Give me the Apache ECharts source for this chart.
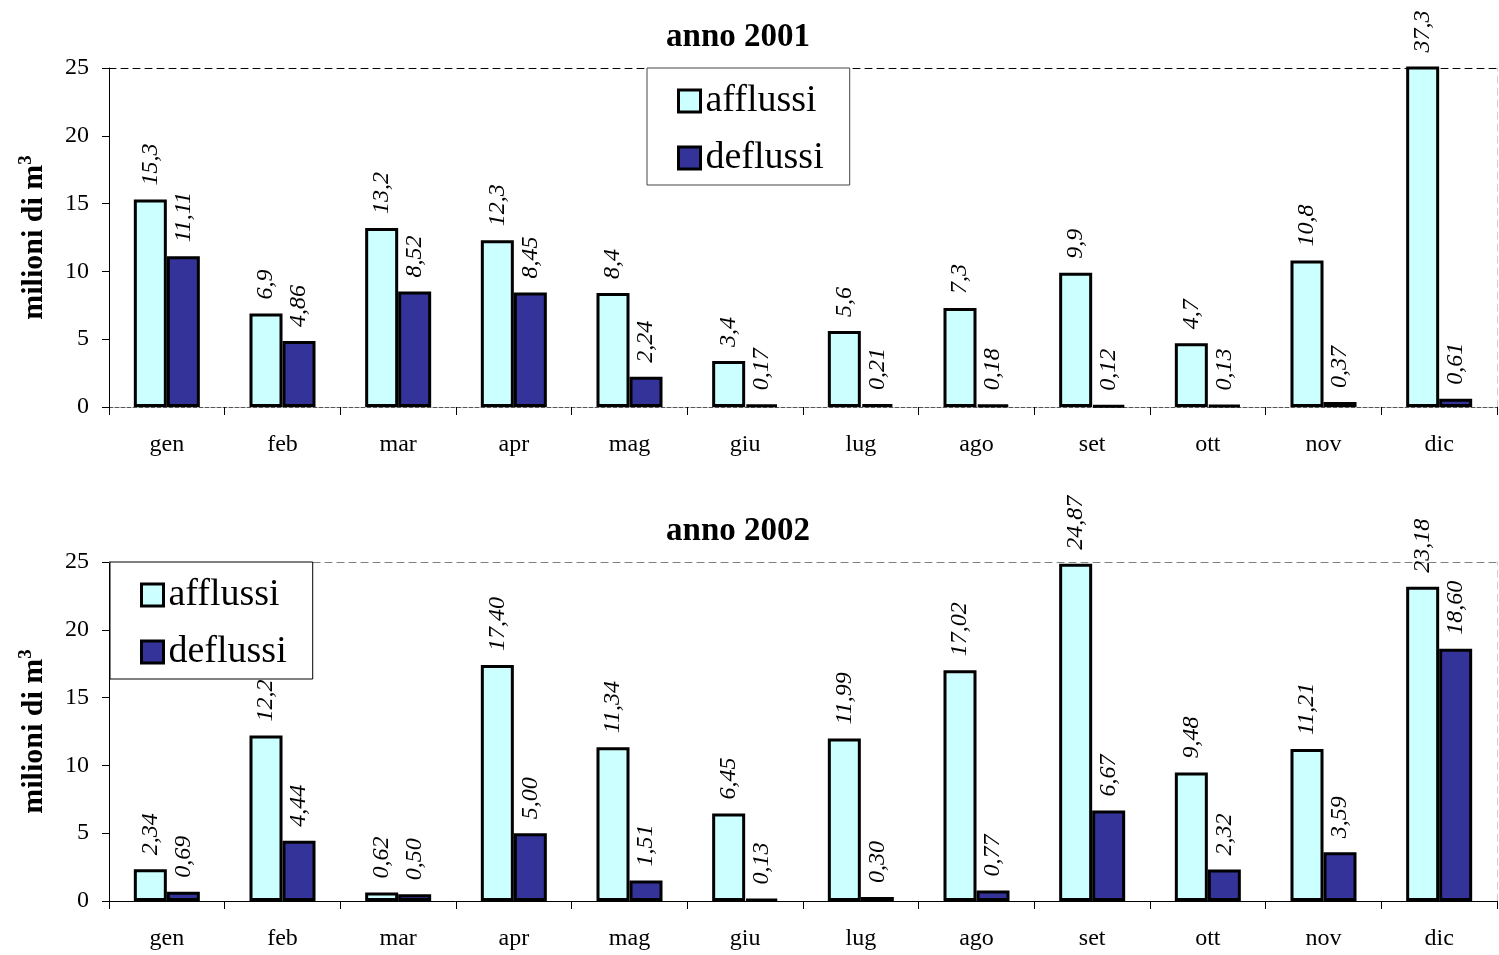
<!DOCTYPE html>
<html>
<head>
<meta charset="utf-8">
<script src="https://cdn.jsdelivr.net/npm/echarts@6/dist/echarts.min.js"></script>
<style>
  html, body { margin: 0; padding: 0; background: #fff; }
  #chart { width: 1499px; height: 955px; }
</style>
</head>
<body>
<div id="chart"></div>
<script>
// Monthly inflow (afflussi) and outflow (deflussi) volumes, millions of m³.
// Values are kept as written so the labels keep their decimals.
const months = ['gen', 'feb', 'mar', 'apr', 'mag', 'giu', 'lug', 'ago', 'set', 'ott', 'nov', 'dic'];
const afflussi2001 = ['15.3', '6.9', '13.2', '12.3', '8.4', '3.4', '5.6', '7.3', '9.9', '4.7', '10.8', '37.3'];
const deflussi2001 = ['11.11', '4.86', '8.52', '8.45', '2.24', '0.17', '0.21', '0.18', '0.12', '0.13', '0.37', '0.61'];
const afflussi2002 = ['2.34', '12.2', '0.62', '17.40', '11.34', '6.45', '11.99', '17.02', '24.87', '9.48', '11.21', '23.18'];
const deflussi2002 = ['0.69', '4.44', '0.50', '5.00', '1.51', '0.13', '0.30', '0.77', '6.67', '2.32', '3.59', '18.60'];
const seriesNames = ['afflussi', 'deflussi'];
const yearTitles = ['anno 2001', 'anno 2002'];
const yMin = 0, yMax = 25, yStep = 5;

const FONT = "'Liberation Serif', 'Times New Roman', serif";
const panels = [
  { top: 68, titleTop: 16, legendLeft: 647, legendBorder: '#444', topLine: '#000', baseColor: '#555', baseType: 'dashed', data: [afflussi2001, deflussi2001] },
  { top: 562, titleTop: 510, legendLeft: 110, legendBorder: '#000', topLine: '#808080', baseColor: '#000', baseType: 'solid', data: [afflussi2002, deflussi2002] }
];
const colors = ['#ccffff', '#333399'];

const chart = echarts.init(document.getElementById('chart'), null, { renderer: 'canvas' });

const option = {
  animation: false,
  backgroundColor: '#fff',
  title: [], grid: [], xAxis: [], yAxis: [], legend: [], series: []
};

panels.forEach((p, i) => {
  option.title.push({
    text: yearTitles[i], left: 733, top: p.titleTop, textAlign: 'center',
    textStyle: { fontFamily: FONT, fontSize: 33, fontWeight: 'bold', color: '#000' }
  });
  option.grid.push({ left: 109, right: 2, top: p.top, height: 339, containLabel: false });

  // bottom category axis
  option.xAxis.push({
    gridIndex: i, type: 'category', data: months, position: 'bottom',
    axisLine: { onZero: false, lineStyle: { color: p.baseColor, type: p.baseType, width: 1 } },
    axisTick: { show: true, length: 8, lineStyle: { color: '#000' } },
    axisLabel: { fontFamily: FONT, fontSize: 24, color: '#000', margin: 26 }
  });
  // dashed line closing the plot at the top
  option.xAxis.push({
    gridIndex: i, type: 'category', data: months, position: 'top',
    axisLine: { onZero: false, lineStyle: { color: p.topLine, type: [7, 5], width: 1 } },
    axisTick: { show: false }, axisLabel: { show: false }
  });
  option.yAxis.push({
    gridIndex: i, type: 'value', min: yMin, max: yMax, interval: yStep, position: 'left',
    axisLine: { show: true, onZero: false, lineStyle: { color: '#000', width: 1 } },
    axisTick: { show: true, length: 7, lineStyle: { color: '#000' } },
    splitLine: { show: false },
    axisLabel: { fontFamily: FONT, fontSize: 24, color: '#000', margin: 20 },
    name: 'milioni di m{sup|3}', nameLocation: 'middle', nameGap: 58, nameRotate: 90,
    nameTextStyle: {
      fontFamily: FONT, fontSize: 30, fontWeight: 'bold', color: '#000',
      rich: { sup: { fontFamily: FONT, fontSize: 19, fontWeight: 'bold', color: '#000', padding: [0, 0, 15, 0] } }
    }
  });
  // faint dashed edge on the right
  option.yAxis.push({
    gridIndex: i, type: 'value', min: yMin, max: yMax, interval: yStep, position: 'right',
    axisLine: { show: true, onZero: false, lineStyle: { color: '#cfcfcf', type: [7, 5], width: 1 } },
    axisTick: { show: false }, axisLabel: { show: false }, splitLine: { show: false }
  });

  option.legend.push({
    orient: 'vertical', left: p.legendLeft, top: p.top,
    padding: [14, 26, 8, 30], borderColor: p.legendBorder, borderWidth: 1, backgroundColor: '#fff',
    itemWidth: 22, itemHeight: 22, itemGap: 19, itemTextGap: 10, icon: 'rect',
    selectedMode: false,
    itemStyle: { borderColor: '#000', borderWidth: 3 },
    textStyle: { fontFamily: FONT, fontSize: 38, color: '#000' },
    data: seriesNames
  });

  p.data.forEach((src, k) => {
    option.series.push({
      type: 'bar', name: seriesNames[k],
      xAxisIndex: 2 * i, yAxisIndex: 2 * i,
      data: src.map(Number),
      barWidth: 33, barGap: '0%',
      itemStyle: { color: colors[k], borderColor: '#000', borderWidth: 3 },
      label: {
        show: true, position: 'top', rotate: 90, align: 'left', verticalAlign: 'middle', distance: 14,
        fontFamily: FONT, fontSize: 24, fontStyle: 'italic', color: '#000',
        formatter: (q) => src[q.dataIndex].replace('.', ',')
      }
    });
  });
});

chart.setOption(option);
</script>
</body>
</html>
